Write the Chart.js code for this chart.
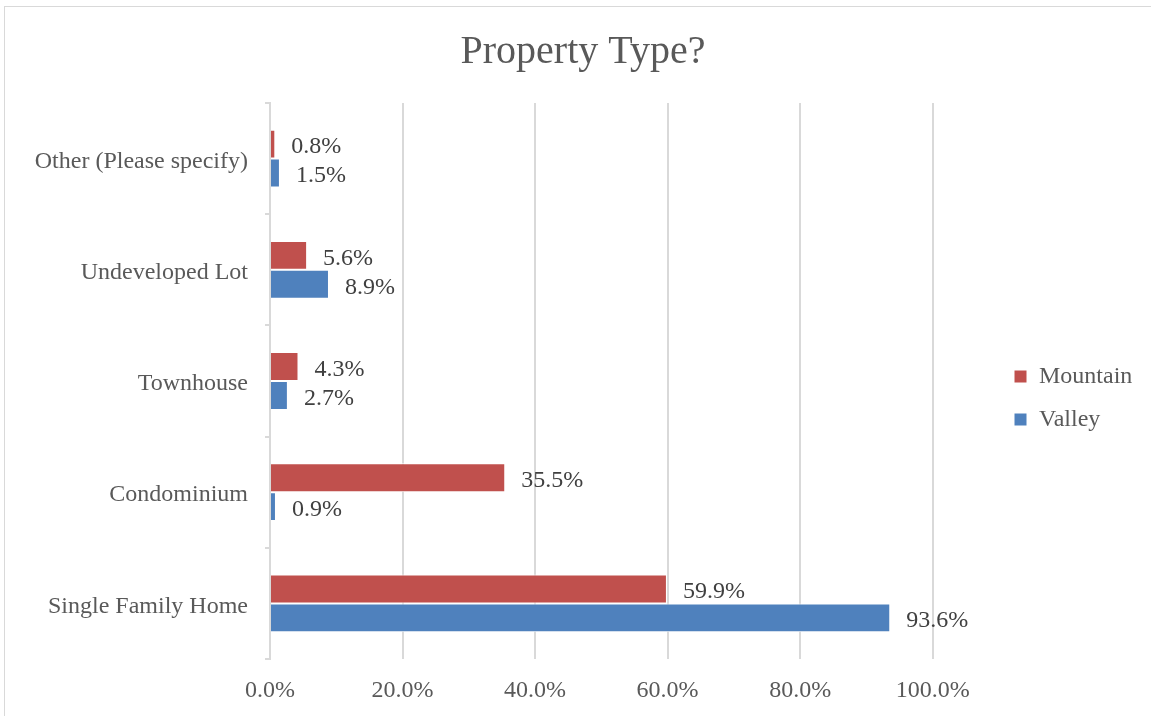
<!DOCTYPE html>
<html>
<head>
<meta charset="utf-8">
<script src="https://cdn.jsdelivr.net/npm/chart.js@4.4.0/dist/chart.umd.min.js"></script>
<style>
  html, body { margin: 0; padding: 0; background: #fff; }
  #frame { position: absolute; left: 4px; top: 6px; width: 1160px; height: 720px; border: 1px solid #d9d9d9; }
  #wrap { position: absolute; left: 0; top: 0; width: 1151px; height: 716px; }
</style>
</head>
<body>
<div id="frame"></div>
<div id="wrap"><canvas id="canvas" width="1151" height="716"></canvas></div>
<script>
var categories = ['Other (Please specify)', 'Undeveloped Lot', 'Townhouse', 'Condominium', 'Single Family Home'];
var mountain = [0.8, 5.6, 4.3, 35.5, 59.9];
var valley = [1.5, 8.9, 2.7, 0.9, 93.6];
var xTicks = [0, 20, 40, 60, 80, 100];

var serif = "'Liberation Serif', serif";
Chart.defaults.font.family = serif;
Chart.defaults.color = '#595959';

// value labels at the end of every bar
var barLabels = {
	id: 'barLabels',
	afterDatasetsDraw: function(chart){
		var ctx = chart.ctx;
		ctx.save();
		ctx.font = '24px ' + serif;
		ctx.fillStyle = '#404040';
		ctx.textBaseline = 'middle';
		ctx.textAlign = 'left';
		chart.data.datasets.forEach(function(ds, i){
			chart.getDatasetMeta(i).data.forEach(function(bar, j){
				ctx.fillText(ds.data[j].toFixed(1) + '%', bar.x + 16, bar.y + 3);
			});
		});
		ctx.restore();
	}
};

// move legend + title to where excel puts them
var layoutTweak = {
	id: 'layoutTweak',
	afterLayout: function(chart){
		var lg = chart.legend;
		var w = lg.right - lg.left;
		lg.left = 995;
		lg.right = lg.left + w;
		lg.top += 40;
		lg.bottom += 40;
		chart.titleBlock.left = 15;
		chart.titleBlock.right = 1151;
	}
};

var ctx = document.getElementById('canvas').getContext('2d');
var chart = new Chart(ctx, {
	type: 'bar',
	data: {
		labels: categories,
		datasets: [{
			label: 'Mountain',
			data: mountain,
			backgroundColor: '#C0504D',
			borderColor: '#ffffff',
			borderWidth: 1
		}, {
			label: 'Valley',
			data: valley,
			backgroundColor: '#4F81BD',
			borderColor: '#ffffff',
			borderWidth: 1
		}]
	},
	options: {
		indexAxis: 'y',
		responsive: false,
		animation: false,
		maintainAspectRatio: false,
		datasets: {
			bar: { categoryPercentage: 0.52, barPercentage: 1 }
		},
		layout: {
			padding: { left: 0, right: 71, top: 0, bottom: 0 }
		},
		scales: {
			x: {
				min: 0,
				max: 100,
				afterBuildTicks: function(scale){
					scale.ticks = xTicks.map(function(v){ return { value: v }; });
				},
				afterFit: function(scale){ scale.height = 57; },
				ticks: {
					padding: 17,
					font: { size: 24 },
					color: '#595959',
					callback: function(v){ return v.toFixed(1) + '%'; }
				},
				grid: { color: '#d9d9d9', lineWidth: 2, drawTicks: false },
				border: { display: false }
			},
			y: {
				offset: true,
				afterFit: function(scale){ scale.width = 270; },
				ticks: {
					padding: 17,
					labelOffset: 3,
					font: { size: 24 },
					color: '#595959'
				},
				grid: {
					offset: true,
					drawOnChartArea: false,
					drawTicks: true,
					tickLength: 5,
					color: '#d9d9d9',
					lineWidth: 2
				},
				border: { display: true, color: '#d9d9d9', width: 2 }
			}
		},
		plugins: {
			title: {
				display: true,
				text: 'Property Type?',
				color: '#595959',
				font: { size: 40, weight: 'normal' },
				padding: { top: 28, bottom: 27 }
			},
			legend: {
				position: 'right',
				labels: {
					boxWidth: 13,
					boxHeight: 13,
					padding: 19,
					color: '#595959',
					font: { size: 24 }
				}
			},
			tooltip: { enabled: false }
		}
	},
	plugins: [barLabels, layoutTweak]
});
</script>
</body>
</html>
